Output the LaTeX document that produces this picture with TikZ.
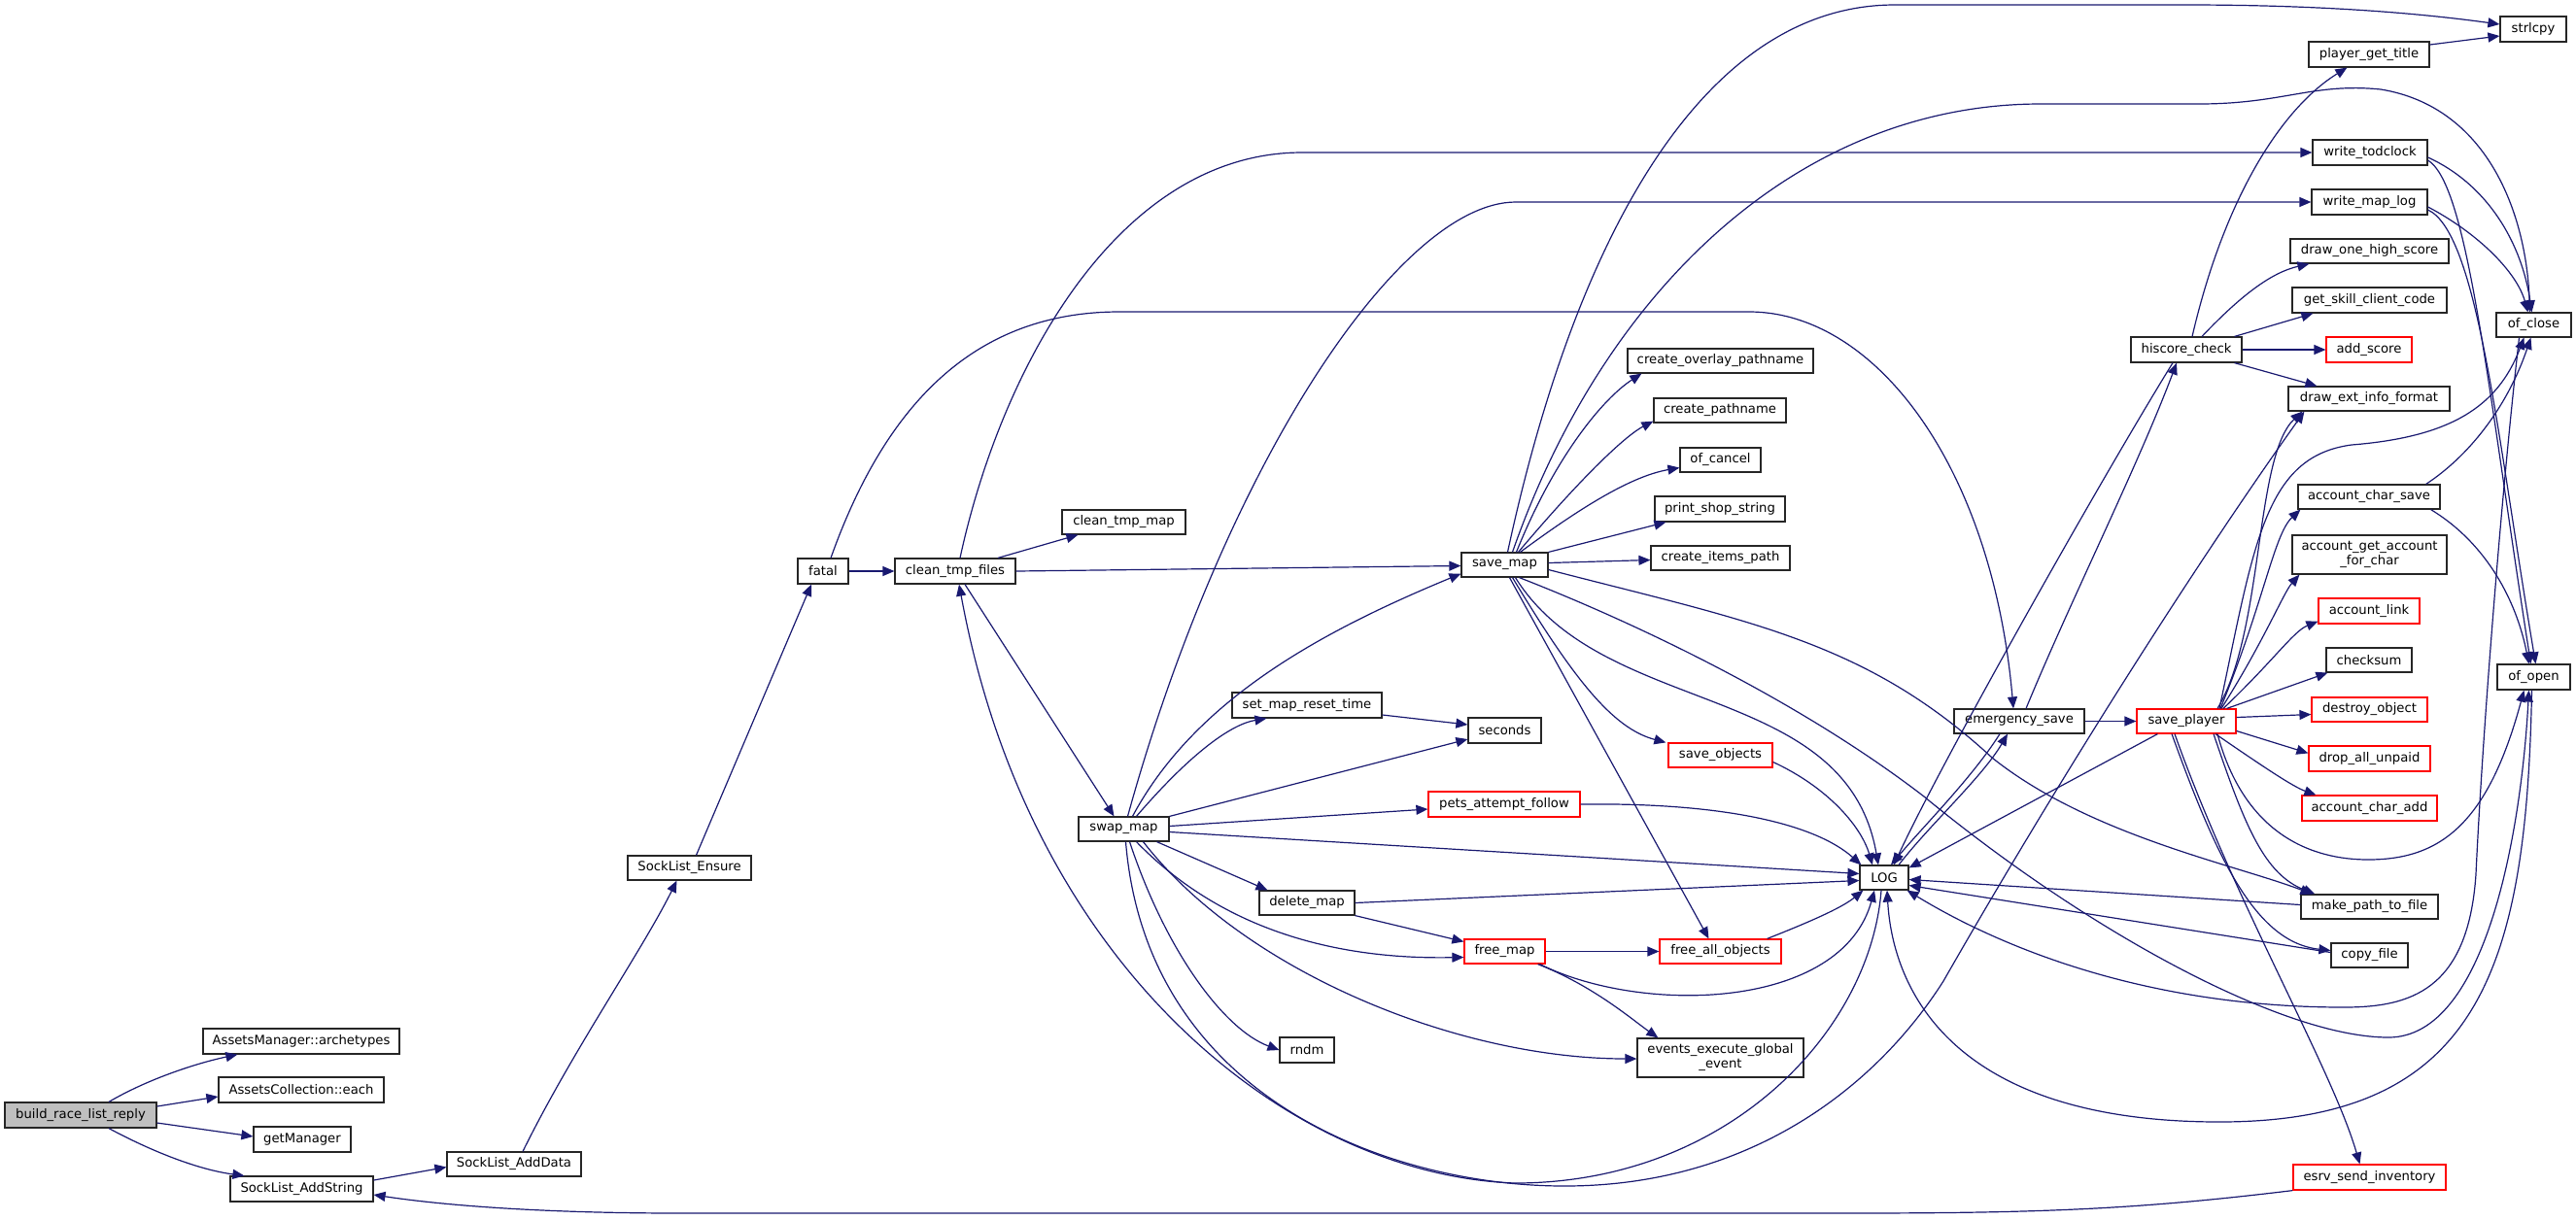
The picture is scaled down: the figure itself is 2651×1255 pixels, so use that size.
\documentclass[tikz,border=0pt]{standalone}
\usepackage{fontspec}
\setmainfont{DejaVu Sans}
\usetikzlibrary{calc,arrows.meta}
\definecolor{edgeblue}{HTML}{191970}
\definecolor{redbox}{HTML}{FF0000}
\definecolor{rootfill}{HTML}{BFBFBF}
\tikzset{
  fbox/.style={draw=black!85, fill=white, line width=0.6pt, inner sep=0pt,
    font={\fontsize{6.6pt}{7.5pt}\selectfont}, align=center},
  rbox/.style={fbox, draw=redbox},
  gbox/.style={fbox, fill=rootfill},
  edge/.style={draw=edgeblue, line width=0.6pt, -{Triangle[length=6pt,width=5pt]}}
}
\newcommand\dbox[7]{\node[#7, minimum width={(#4-#2)*0.5pt}, minimum height={(#5-#3)*0.5pt}] (#1) at ({(#2+#4)/2},{(#3+#5)/2}) {#6};}
\begin{document}
\begin{tikzpicture}[x=0.5pt,y=-0.5pt]
\useasboundingbox (0,0) rectangle (2651,1255);
% nodes
\dbox{B}{5}{1135}{161}{1161}{build\_race\_list\_reply}{gbox}
\dbox{amarch}{209}{1059}{411}{1085}{AssetsManager::archetypes}{fbox}
\dbox{aceach}{225}{1109}{395}{1135}{AssetsCollection::each}{fbox}
\dbox{getm}{261}{1160}{361}{1186}{getManager}{fbox}
\dbox{sladds}{237}{1211}{384}{1237}{SockList\_AddString}{fbox}
\dbox{sladdd}{460}{1186}{598}{1211}{SockList\_AddData}{fbox}
\dbox{slens}{646}{881}{773}{906}{SockList\_Ensure}{fbox}
\dbox{fatal}{821}{575}{873}{601}{fatal}{fbox}
\dbox{ctf}{921}{575}{1045}{601}{clean\_tmp\_files}{fbox}
\dbox{ctm}{1093}{525}{1220}{550}{clean\_tmp\_map}{fbox}
\dbox{swap}{1110}{841}{1203}{866}{swap\_map}{fbox}
\dbox{smrt}{1268}{713}{1422}{739}{set\_map\_reset\_time}{fbox}
\dbox{delm}{1296}{917}{1394}{942}{delete\_map}{fbox}
\dbox{rndm}{1317}{1068}{1373}{1094}{rndm}{fbox}
\dbox{savemap}{1504}{569}{1593}{594}{save\_map}{fbox}
\dbox{seconds}{1511}{739}{1586}{765}{seconds}{fbox}
\dbox{pets}{1470}{815}{1626}{841}{pets\_attempt\_follow}{rbox}
\dbox{freemap}{1507}{967}{1590}{992}{free\_map}{rbox}
\dbox{cop}{1675}{359}{1866}{384}{create\_overlay\_pathname}{fbox}
\dbox{cpn}{1702}{410}{1838}{435}{create\_pathname}{fbox}
\dbox{ofcancel}{1729}{461}{1812}{486}{of\_cancel}{fbox}
\dbox{pss}{1703}{511}{1837}{537}{print\_shop\_string}{fbox}
\dbox{cip}{1699}{562}{1842}{587}{create\_items\_path}{fbox}
\dbox{saveobj}{1717}{765}{1824}{790}{save\_objects}{rbox}
\dbox{fao}{1708}{967}{1833}{992}{free\_all\_objects}{rbox}
\dbox{eeg}{1685}{1069}{1856}{1109}{events\_execute\_global\\\_event}{fbox}
\dbox{LOG}{1914}{891}{1964}{916}{LOG}{fbox}
\dbox{esave}{2011}{730}{2145}{755}{emergency\_save}{fbox}
\dbox{splayer}{2199}{730}{2301}{755}{save\_player}{rbox}
\dbox{hsc}{2193}{347}{2307}{373}{hiscore\_check}{fbox}
\dbox{pgt}{2376}{43}{2500}{69}{player\_get\_title}{fbox}
\dbox{wtc}{2380}{144}{2498}{170}{write\_todclock}{fbox}
\dbox{wml}{2379}{195}{2498}{221}{write\_map\_log}{fbox}
\dbox{dohs}{2357}{246}{2520}{271}{draw\_one\_high\_score}{fbox}
\dbox{gscc}{2359}{296}{2518}{322}{get\_skill\_client\_code}{fbox}
\dbox{addscore}{2394}{347}{2482}{373}{add\_score}{rbox}
\dbox{deif}{2355}{398}{2521}{423}{draw\_ext\_info\_format}{fbox}
\dbox{acs}{2365}{499}{2511}{524}{account\_char\_save}{fbox}
\dbox{agafc}{2359}{551}{2518}{591}{account\_get\_account\\\_for\_char}{fbox}
\dbox{alink}{2386}{616}{2490}{642}{account\_link}{rbox}
\dbox{checksum}{2394}{667}{2482}{692}{checksum}{fbox}
\dbox{dobj}{2379}{718}{2498}{743}{destroy\_object}{rbox}
\dbox{dau}{2376}{768}{2501}{794}{drop\_all\_unpaid}{rbox}
\dbox{aca}{2369}{819}{2508}{845}{account\_char\_add}{rbox}
\dbox{mptf}{2368}{921}{2509}{946}{make\_path\_to\_file}{fbox}
\dbox{copyf}{2399}{971}{2478}{996}{copy\_file}{fbox}
\dbox{esrv}{2360}{1199}{2517}{1225}{esrv\_send\_inventory}{rbox}
\dbox{strlcpy}{2573}{17}{2641}{43}{strlcpy}{fbox}
\dbox{ofclose}{2569}{322}{2646}{347}{of\_close}{fbox}
\dbox{ofopen}{2570}{684}{2645}{710}{of\_open}{fbox}
% edges
\draw[edge] ($(B.north)+(29,0)$) .. controls (150,1112) and (200,1095) .. ($(amarch.south west)+(36,0)$);
\draw[edge] ($(B.east)+(0,-9)$) -- ($(aceach.west)+(0,7)$);
\draw[edge] ($(B.east)+(0,8)$) -- ($(getm.west)+(0,-3)$);
\draw[edge] ($(B.south)+(29,0)$) .. controls (165,1190) and (210,1205) .. ($(sladds.north west)+(15,0)$);
\draw[edge] ($(sladds.east)+(0,-9)$) -- ($(sladdd.west)+(0,3)$);
\draw[edge] ($(sladdd.north)+(9,0)$) .. controls (590,1080) and (660,980) .. ($(slens.south)+(-13,0)$);
\draw[edge] ($(slens.north)+(7,0)$) -- ($(fatal.south)+(-12,0)$);
\draw[edge] (fatal) -- (ctf);
\draw[edge] ($(fatal.north)+(8,0)$) .. controls (910,420) and (1000,321) .. (1152,321) -- (1800,321) .. controls (1930,321) and (2050,480) .. ($(esave.north)+(-6,0)$);
\draw[edge] ($(ctf.north)+(44,0)$) -- ($(ctm.south west)+(17,0)$);
\draw[edge] (ctf.east) -- ($(savemap.west)+(0,1)$);
\draw[edge] ($(ctf.south)+(10,0)$) -- ($(swap.north)+(-10,0)$);
\draw[edge] ($(ctf.north)+(5,0)$) .. controls (1030,380) and (1150,157) .. (1340,157) -- (wtc.west);
\draw[edge] ($(LOG.south)+(-3,0)$) .. controls (1925,1060) and (1780,1218) .. (1559,1218) .. controls (1330,1210) and (1060,1000) .. ($(ctf.south)+(4,0)$);
\draw[edge] ($(swap.north)+(13,0)$) .. controls (1230,770) and (1270,745) .. ($(smrt.south west)+(36,0)$);
\draw[edge] ($(smrt.east)+(0,10)$) -- ($(seconds.west)+(0,-6)$);
\draw[edge] (swap.north east) -- ($(seconds.west)+(0,9)$);
\draw[edge] ($(swap.east)+(0,-3)$) -- ($(pets.west)+(0,5)$);
\draw[edge] ($(swap.east)+(0,3)$) -- ($(LOG.west)+(0,-4)$);
\draw[edge] ($(swap.south)+(34,0)$) -- ($(delm.north west)+(9,0)$);
\draw[edge] (delm.south east) -- ($(freemap.north west)+(0,3)$);
\draw[edge] (delm.east) -- ($(LOG.west)+(0,3)$);
\draw[edge] ($(swap.south)+(13,0)$) .. controls (1260,960) and (1380,988) .. ($(freemap.west)+(0,6)$);
\draw[edge] ($(swap.south)+(6,0)$) .. controls (1200,980) and (1260,1060) .. (rndm.west);
\draw[edge] ($(swap.south)+(20,0)$) .. controls (1280,1000) and (1500,1090) .. ($(eeg.west)+(0,1)$);
\draw[edge] ($(swap.north)+(9,0)$) .. controls (1230,720) and (1360,650) .. ($(savemap.south west)+(0,-4)$);
\draw[edge] ($(swap.north)+(4,0)$) .. controls (1260,480) and (1440,208) .. (1560,208) -- (wml.west);
\draw[edge] ($(swap.south)+(2,0)$) .. controls (1180,1130) and (1430,1221) .. (1610,1221) .. controls (1800,1221) and (1930,1120) .. (2000,1010) .. controls (2120,800) and (2260,580) .. ($(deif.south west)+(17,0)$);
\draw[edge] (freemap) -- (fao);
\draw[edge] ($(freemap.south east)+(-8,0)$) .. controls (1640,1015) and (1680,1050) .. ($(eeg.north west)+(22,0)$);
\draw[edge] ($(freemap.south east)+(-6,0)$) .. controls (1690,1045) and (1895,1040) .. ($(LOG.south)+(-10,0)$);
\draw[edge] ($(fao.north east)+(-15,0)$) .. controls (1860,950) and (1895,935) .. ($(LOG.south west)+(4,0)$);
\draw[edge] (pets.east) .. controls (1780,826) and (1870,850) .. ($(LOG.north west)+(2,0)$);
\draw[edge] ($(saveobj.east)+(0,7)$) .. controls (1880,810) and (1915,850) .. ($(LOG.north)+(-12,0)$);
\draw[edge] ($(savemap.south)+(8,0)$) .. controls (1620,700) and (1660,750) .. ($(saveobj.north west)+(-2,0)$);
\draw[edge] ($(savemap.south)+(5,0)$) -- ($(fao.north)+(-12,0)$);
\draw[edge] ($(savemap.south)+(11,0)$) .. controls (1650,740) and (1900,700) .. ($(LOG.north)+(-6,0)$);
\draw[edge] ($(savemap.east)+(0,5)$) .. controls (1800,640) and (1920,660) .. (2050,780) .. controls (2150,860) and (2300,890) .. ($(mptf.north west)+(12,0)$);
\draw[edge] ($(savemap.south)+(15,0)$) .. controls (1680,640) and (1850,720) .. (1980,820) .. controls (2150,960) and (2350,1068) .. (2458,1068) .. controls (2560,1068) and (2595,850) .. ($(ofopen.south)+(-5,0)$);
\draw[edge] ($(savemap.north)+(12,0)$) .. controls (1600,470) and (1650,410) .. ($(cop.south west)+(15,0)$);
\draw[edge] ($(savemap.north)+(14,0)$) .. controls (1620,500) and (1670,450) .. ($(cpn.south west)+(0,-2)$);
\draw[edge] ($(savemap.north)+(16,0)$) .. controls (1630,520) and (1680,490) .. ($(ofcancel.west)+(0,8)$);
\draw[edge] (savemap.north east) -- ($(pss.south west)+(12,0)$);
\draw[edge] ($(savemap.east)+(0,-2)$) -- ($(cip.west)+(0,2)$);
\draw[edge] ($(savemap.north)+(3,0)$) .. controls (1620,250) and (1750,5) .. (1950,5) -- (2250,5) .. controls (2400,5) and (2500,15) .. ($(strlcpy.west)+(0,-5)$);
\draw[edge] ($(savemap.north)+(8,0)$) .. controls (1650,300) and (1850,107) .. (2100,107) -- (2263,107) .. controls (2350,107) and (2380,85) .. (2450,92) .. controls (2560,110) and (2600,220) .. ($(ofclose.north)+(-4,0)$);
\draw[edge] ($(hsc.north)+(6,0)$) .. controls (2290,200) and (2350,110) .. ($(pgt.south west)+(40,0)$);
\draw[edge] ($(pgt.east)+(0,-10)$) -- ($(strlcpy.west)+(0,7)$);
\draw[edge] ($(wtc.east)+(0,5)$) .. controls (2560,190) and (2595,250) .. ($(ofclose.north)+(-2,0)$);
\draw[edge] ($(wtc.east)+(0,8)$) .. controls (2540,190) and (2560,400) .. ($(ofopen.north)+(-3,0)$);
\draw[edge] ($(wml.east)+(0,5)$) .. controls (2550,240) and (2590,280) .. ($(ofclose.north)+(-6,0)$);
\draw[edge] ($(wml.east)+(0,8)$) .. controls (2550,240) and (2570,450) .. ($(ofopen.north)+(2,0)$);
\draw[edge] ($(hsc.north)+(16,0)$) .. controls (2310,300) and (2340,280) .. ($(dohs.south west)+(20,0)$);
\draw[edge] ($(hsc.north east)+(-8,0)$) -- ($(gscc.south west)+(22,0)$);
\draw[edge] (hsc) -- (addscore);
\draw[edge] ($(hsc.south east)+(-8,0)$) -- ($(deif.north west)+(30,0)$);
\draw[edge] ($(hsc.south)+(-14,0)$) .. controls (2170,480) and (2000,780) .. ($(LOG.north)+(10,0)$);
\draw[edge] ($(esave.north)+(7,0)$) .. controls (2130,620) and (2200,480) .. ($(hsc.south)+(-10,0)$);
\draw[edge] ($(esave.south)+(-20,0)$) .. controls (2030,800) and (1980,850) .. ($(LOG.north)+(7,0)$);
\draw[edge] ($(LOG.north)+(15,0)$) .. controls (1985,850) and (2040,800) .. ($(esave.south)+(-12,0)$);
\draw[edge] (esave) -- (splayer);
\draw[edge] ($(splayer.south west)+(22,0)$) -- ($(LOG.north east)+(0,3)$);
\draw[edge] ($(splayer.north)+(32,0)$) .. controls (2330,650) and (2320,470) .. ($(deif.south west)+(15,0)$);
\draw[edge] ($(splayer.north)+(34,0)$) .. controls (2320,560) and (2330,470) .. (2420,458) .. controls (2520,450) and (2570,420) .. ($(ofclose.south)+(-10,0)$);
\draw[edge] ($(splayer.north)+(35,0)$) .. controls (2330,620) and (2340,550) .. ($(acs.south west)+(3,0)$);
\draw[edge] ($(splayer.north)+(36,0)$) .. controls (2330,660) and (2350,610) .. ($(agafc.south west)+(8,0)$);
\draw[edge] ($(splayer.north)+(38,0)$) .. controls (2340,680) and (2360,650) .. ($(alink.south west)+(0,-3)$);
\draw[edge] ($(splayer.north east)+(-10,0)$) -- ($(checksum.south west)+(2,0)$);
\draw[edge] ($(splayer.east)+(0,-4)$) -- ($(dobj.west)+(0,5)$);
\draw[edge] ($(splayer.east)+(0,10)$) -- ($(dau.north west)+(0,8)$);
\draw[edge] ($(splayer.south)+(30,0)$) .. controls (2330,790) and (2360,810) .. ($(aca.north west)+(15,0)$);
\draw[edge] ($(splayer.south)+(28,0)$) .. controls (2310,850) and (2330,900) .. ($(mptf.north west)+(15,0)$);
\draw[edge] ($(splayer.south)+(-15,0)$) .. controls (2280,880) and (2320,970) .. ($(copyf.west)+(0,-5)$);
\draw[edge] ($(splayer.south)+(-12,0)$) .. controls (2300,930) and (2400,1100) .. ($(esrv.north)+(-10,0)$);
\draw[edge] ($(splayer.south)+(32,0)$) .. controls (2310,860) and (2380,885) .. (2437,885) .. controls (2510,885) and (2560,850) .. ($(ofopen.south)+(-10,0)$);
\draw[edge] ($(mptf.west)+(0,-2)$) -- ($(LOG.east)+(0,2)$);
\draw[edge] ($(copyf.west)+(0,-3)$) -- ($(LOG.east)+(0,8)$);
\draw[edge] ($(acs.north east)+(-15,0)$) .. controls (2540,470) and (2580,420) .. ($(ofclose.south)+(-3,0)$);
\draw[edge] ($(acs.south east)+(-10,0)$) .. controls (2560,560) and (2590,620) .. ($(ofopen.north)+(-5,0)$);
\draw[edge] ($(ofclose.south)+(-15,0)$) .. controls (2575,500) and (2555,750) .. (2548,900) .. controls (2540,1020) and (2480,1037) .. (2412,1037) .. controls (2200,1037) and (2050,970) .. ($(LOG.south east)+(-2,0)$);
\draw[edge] ($(ofopen.south)+(-2,0)$) .. controls (2600,1000) and (2550,1155) .. (2284,1155) .. controls (2010,1155) and (1948,1020) .. ($(LOG.south)+(3,0)$);
\draw[edge] (esrv.south west) .. controls (2200,1245) and (2100,1249) .. (1900,1249) -- (700,1249) .. controls (550,1249) and (450,1240) .. ($(sladds.east)+(0,6)$);
\end{tikzpicture}
\end{document}
